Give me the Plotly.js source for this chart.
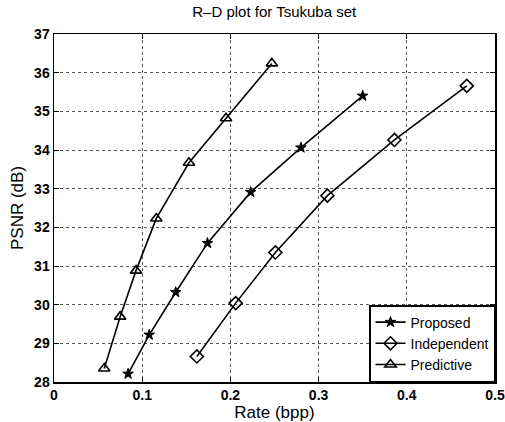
<!DOCTYPE html>
<html>
<head>
<meta charset="utf-8">
<script src="https://cdn.plot.ly/plotly-3.0.1.min.js"></script>
<style>html,body{margin:0;padding:0;background:#fff;}#chart{width:505px;height:422px;}</style>
</head>
<body>
<div id="chart"></div>
<script>
// Rate (bpp) and PSNR (dB)
const proposedRate = [0.084, 0.108, 0.138, 0.174, 0.223, 0.280, 0.350];
const proposedPSNR = [28.21, 29.22, 30.32, 31.59, 32.91, 34.06, 35.40];
const independentRate = [0.162, 0.206, 0.251, 0.310, 0.386, 0.468];
const independentPSNR = [28.66, 30.04, 31.35, 32.82, 34.26, 35.66];
const predictiveRate = [0.057, 0.075, 0.093, 0.116, 0.153, 0.195, 0.247];
const predictivePSNR = [28.35, 29.69, 30.88, 32.23, 33.67, 34.82, 36.24];
const xTicks = [0, 0.1, 0.2, 0.3, 0.4, 0.5];
const yTicks = [28, 29, 30, 31, 32, 33, 34, 35, 36, 37];

const fontFam = 'Liberation Sans, Arial, Helvetica, sans-serif';
const line = {color: '#000', width: 1.6};

const traces = [
  {x: proposedRate, y: proposedPSNR, name: 'Proposed', mode: 'lines+markers',
   line: line, marker: {symbol: 'star', size: 8, color: '#000', line: {color: '#000', width: 1}}},
  {x: independentRate, y: independentPSNR, name: 'Independent', mode: 'lines+markers',
   line: line, marker: {symbol: 'diamond-open', size: 10, color: '#000', line: {color: '#000', width: 1.6}}},
  {x: predictiveRate, y: predictivePSNR, name: 'Predictive', mode: 'lines+markers',
   line: line, marker: {symbol: 'triangle-up-open', size: 10, color: '#000', line: {color: '#000', width: 1.6}}}
];

const axisCommon = {
  showline: true, linecolor: '#000', linewidth: 1.5, mirror: 'ticks',
  ticks: 'inside', ticklen: 5, tickcolor: '#000', tickwidth: 1,
  showgrid: true, gridcolor: '#555', griddash: 'dot', gridwidth: 1,
  zeroline: false,
  tickfont: {family: fontFam, size: 14, color: '#000', weight: 700}
};

const layout = {
  width: 505, height: 422,
  margin: {l: 54, r: 10, t: 34, b: 40},
  paper_bgcolor: '#fff', plot_bgcolor: '#fff',
  font: {family: fontFam, color: '#000'},
  title: {text: 'R–D plot for Tsukuba set', x: 0.543, xanchor: 'center', y: 0.972, yanchor: 'middle',
          font: {family: fontFam, size: 15, color: '#000'}},
  xaxis: Object.assign({}, axisCommon, {
    range: [0, 0.5], tickvals: xTicks, ticktext: xTicks.map(String),
    title: {text: 'Rate (bpp)', standoff: 0, font: {family: fontFam, size: 17, color: '#000'}}
  }),
  yaxis: Object.assign({}, axisCommon, {
    range: [28, 37], tickvals: yTicks, ticktext: yTicks.map(String),
    title: {text: 'PSNR (dB)', standoff: 6, font: {family: fontFam, size: 17, color: '#000'}}
  }),
  showlegend: true,
  legend: {x: 1, xanchor: 'right', y: 0, yanchor: 'bottom', bgcolor: '#fff',
           bordercolor: '#000', borderwidth: 1.5, tracegroupgap: 0, itemwidth: 30,
           font: {family: fontFam, size: 14, color: '#000'}}
};

Plotly.newPlot('chart', traces, layout, {displayModeBar: false, staticPlot: true});
</script>
</body>
</html>
